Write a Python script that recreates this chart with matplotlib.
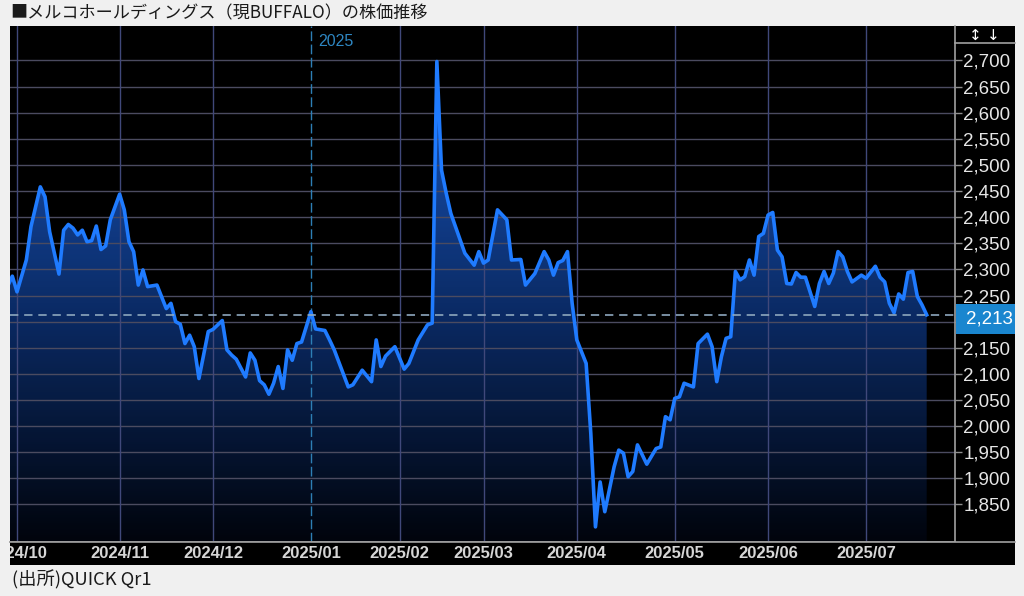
import numpy as np
import pandas as pd
import matplotlib
matplotlib.use("Agg")
import matplotlib.pyplot as plt
from matplotlib.patches import Rectangle
from matplotlib.lines import Line2D
from matplotlib.colors import LinearSegmentedColormap
from matplotlib.ticker import FuncFormatter

# --- data (closing prices, yen) ---
dates = [
    "2024-09-27", "2024-09-30", "2024-10-01", "2024-10-03", "2024-10-04", "2024-10-08",
    "2024-10-09", "2024-10-10", "2024-10-15", "2024-10-16", "2024-10-17", "2024-10-18",
    "2024-10-21", "2024-10-22", "2024-10-23", "2024-10-24", "2024-10-25", "2024-10-28",
    "2024-10-29", "2024-10-30", "2024-11-01", "2024-11-05", "2024-11-06", "2024-11-07",
    "2024-11-08", "2024-11-11", "2024-11-12", "2024-11-14", "2024-11-18", "2024-11-19",
    "2024-11-20", "2024-11-21", "2024-11-22", "2024-11-25", "2024-11-26", "2024-11-27",
    "2024-11-29", "2024-12-02", "2024-12-04", "2024-12-05", "2024-12-06", "2024-12-09",
    "2024-12-11", "2024-12-12", "2024-12-13", "2024-12-16", "2024-12-17", "2024-12-18",
    "2024-12-19", "2024-12-20", "2024-12-23", "2024-12-24", "2024-12-25", "2024-12-26",
    "2024-12-27", "2024-12-30", "2025-01-06", "2025-01-07", "2025-01-09", "2025-01-10",
    "2025-01-14", "2025-01-17", "2025-01-20", "2025-01-22", "2025-01-24", "2025-01-27",
    "2025-01-28", "2025-01-29", "2025-01-31", "2025-02-04", "2025-02-05", "2025-02-07",
    "2025-02-12", "2025-02-13", "2025-02-14", "2025-02-17", "2025-02-18", "2025-02-19",
    "2025-02-21", "2025-02-25", "2025-02-27", "2025-02-28", "2025-03-03", "2025-03-04",
    "2025-03-06", "2025-03-10", "2025-03-11", "2025-03-13", "2025-03-14", "2025-03-18",
    "2025-03-21", "2025-03-24", "2025-03-25", "2025-03-26", "2025-03-27", "2025-03-28",
    "2025-03-31", "2025-04-01", "2025-04-03", "2025-04-04", "2025-04-07", "2025-04-08",
    "2025-04-09", "2025-04-11", "2025-04-14", "2025-04-15", "2025-04-16", "2025-04-17",
    "2025-04-18", "2025-04-22", "2025-04-24", "2025-04-25", "2025-04-28", "2025-04-30",
    "2025-05-01", "2025-05-02", "2025-05-07", "2025-05-09", "2025-05-12", "2025-05-14",
    "2025-05-15", "2025-05-16", "2025-05-19", "2025-05-20", "2025-05-21", "2025-05-22",
    "2025-05-23", "2025-05-26", "2025-05-27", "2025-05-28", "2025-05-29", "2025-05-30",
    "2025-06-02", "2025-06-03", "2025-06-04", "2025-06-05", "2025-06-06", "2025-06-09",
    "2025-06-10", "2025-06-11", "2025-06-12", "2025-06-16", "2025-06-17", "2025-06-18",
    "2025-06-19", "2025-06-20", "2025-06-23", "2025-06-24", "2025-06-25", "2025-06-26",
    "2025-06-30", "2025-07-01", "2025-07-03", "2025-07-04", "2025-07-07", "2025-07-08",
    "2025-07-09", "2025-07-10", "2025-07-11", "2025-07-14", "2025-07-15", "2025-07-16",
    "2025-07-17", "2025-07-18",
]
close = [
    2268, 2287, 2257, 2318, 2382, 2458,
    2439, 2372, 2291, 2375, 2386, 2379,
    2366, 2375, 2353, 2355, 2383, 2338,
    2345, 2395, 2444, 2414, 2353, 2334,
    2270, 2299, 2267, 2270, 2225, 2235,
    2200, 2195, 2158, 2174, 2152, 2091,
    2181, 2185, 2202, 2146, 2136, 2128,
    2094, 2140, 2126, 2087, 2079, 2061,
    2082, 2114, 2072, 2146, 2126, 2158,
    2161, 2190, 2219, 2186, 2183, 2165,
    2146, 2075, 2079, 2107, 2085, 2165,
    2114, 2134, 2152, 2109, 2120, 2165,
    2194, 2197, 2698, 2490, 2446, 2407,
    2356, 2331, 2308, 2334, 2312, 2318,
    2414, 2395, 2318, 2319, 2270, 2292,
    2334, 2318, 2289, 2313, 2317, 2334,
    2235, 2165, 2120, 1986, 1807, 1893,
    1836, 1922, 1954, 1948, 1903, 1913,
    1964, 1927, 1957, 1960, 2018, 2012,
    2053, 2056, 2082, 2075, 2158, 2176,
    2152, 2085, 2133, 2168, 2171, 2296,
    2280, 2286, 2318, 2289, 2363, 2369,
    2404, 2409, 2337, 2324, 2273, 2272,
    2294, 2285, 2285, 2229, 2273, 2296,
    2273, 2293, 2334, 2324, 2296, 2276,
    2289, 2283, 2306, 2285, 2276, 2235,
    2217, 2253, 2243, 2294, 2296, 2248,
    2232, 2213,
]
last_price = 2213
month_labels = ["2024/10", "2024/11", "2024/12", "2025/01", "2025/02",
                "2025/03", "2025/04", "2025/05", "2025/06", "2025/07"]
y_ticks = list(range(1850, 2701, 50))

# Tokyo exchange closed days in the period
holidays = ["2024-10-14", "2024-11-04", "2024-12-31", "2025-01-01", "2025-01-02",
            "2025-01-03", "2025-01-13", "2025-02-11", "2025-02-24", "2025-03-20",
            "2025-04-29", "2025-05-05", "2025-05-06", "2025-07-21"]

# trading-day axis (x = trading days since 2024-10-01)
tdays = pd.bdate_range("2024-09-20", "2025-08-29", freq="C", holidays=holidays)
origin = tdays.get_loc(pd.Timestamp("2024-10-01"))
x = tdays.get_indexer(pd.to_datetime(dates)) - origin
month_first = [tdays[(tdays.year == int(m[:4])) & (tdays.month == int(m[5:]))][0] for m in month_labels]
month_pos = [tdays.get_loc(d) - origin for d in month_first]

# --- figure layout in pixels ---
W, H = 1024, 596
def fx(px):
    return px / W
def fy(py):
    return 1 - py / H

fig = plt.figure(figsize=(W / 100, H / 100), dpi=100, facecolor="#f0f0f0")
fig.patches.append(Rectangle((fx(10), fy(565)), 1005 / W, 539 / H, transform=fig.transFigure,
                             facecolor="black", edgecolor="none", zorder=-1))

ax = fig.add_axes([fx(10), fy(541.5), 945 / W, 515.5 / H])
ax.set_facecolor("black")
xmin, xmax = -1.5, 201.07
ymin, ymax = 1779, 2766
ax.set_xlim(xmin, xmax)
ax.set_ylim(ymin, ymax)

# grid
for v in y_ticks:
    ax.axhline(v, color="#4b4b60", lw=1, zorder=2)
for i, p in enumerate(month_pos):
    if month_labels[i] == "2025/01":
        ax.axvline(p, color="#2d7fb5", lw=1, ls=(0, (7, 2.5)), zorder=2)
    else:
        ax.axvline(p, color="#40487a", lw=1, zorder=2)

# gradient fill under the line
fill = ax.fill_between(x, close, ymin, facecolor="none", edgecolor="none")
cmap = LinearSegmentedColormap.from_list("fill", [(0, "#02050e"), (0.43, "#0b2c68"), (1, "#1d62d6")])
grad = np.linspace(0, 1, 256).reshape(-1, 1)
im = ax.imshow(grad, extent=[xmin, xmax, ymin, ymax], origin="lower", aspect="auto",
               cmap=cmap, zorder=1, alpha=0.95)
im.set_clip_path(fill.get_paths()[0], ax.transData)

ax.plot(x, close, color="#1f7bff", lw=2.6, solid_joinstyle="round", zorder=3)
ax.axhline(last_price, color="#8ea8be", lw=1.2, ls=(0, (5, 3.5)), zorder=3)

ax.annotate("2025", xy=(month_pos[3], 0.969), xycoords=("data", "axes fraction"),
            xytext=(5, 0), textcoords="offset points", ha="left", va="center",
            color="#2e86c1", fontsize=11.5, family="Liberation Sans")

# axes styling (the 2,200 label sits under the price box, so it is left blank)
ax.yaxis.tick_right()
ax.set_yticks(y_ticks)
ax.yaxis.set_major_formatter(FuncFormatter(lambda v, p: "" if v == 2200 else f"{v:,.0f}"))
ax.tick_params(axis="y", colors="#909090", labelcolor="#e6e6e6", length=5, width=1,
               pad=1, labelsize=13.5)
for lab in ax.get_yticklabels():
    lab.set_family("Liberation Sans")
ax.set_xticks([])
for s in ["top", "left"]:
    ax.spines[s].set_visible(False)
for s in ["right", "bottom"]:
    ax.spines[s].set_color("#a0a0a0")
    ax.spines[s].set_linewidth(1.2)

# bottom date strip
bx = fig.add_axes([fx(10), fy(565), 1005 / W, 23.5 / H])
bx.set_facecolor("black")
bx.set_xlim(xmin, xmin + 1005 / (945 / (xmax - xmin)))
bx.set_ylim(0, 1)
bx.set_xticks([])
bx.set_yticks([])
for s in bx.spines.values():
    s.set_visible(False)
for p, lab in zip(month_pos, month_labels):
    bx.text(p, 0.5, lab, ha="center", va="center", color="#d6d6d6", fontsize=12,
            fontweight="bold", family="Liberation Sans", clip_on=True)

# separators and right panel bits
fig.add_artist(Line2D([fx(10), fx(1015)], [fy(541.5), fy(541.5)], color="#a0a0a0", lw=1.2, zorder=5))
fig.add_artist(Line2D([fx(955), fx(1015)], [fy(43), fy(43)], color="#a0a0a0", lw=1.2, zorder=5))
fig.text(fx(975), fy(35), "↕", color="white", fontsize=11, ha="center", va="center", zorder=6)
fig.text(fx(993), fy(35), "↓", color="white", fontsize=11, ha="center", va="center", zorder=6)

fig.patches.append(Rectangle((fx(955.5), fy(334)), 59.5 / W, 30 / H, transform=fig.transFigure,
                             facecolor="#1a86cf", edgecolor="none", zorder=5))
fig.text(fx(966), fy(319), f"{last_price:,}", color="white", fontsize=13.5, ha="left",
         va="center", family="Liberation Sans", zorder=6)

# title and source
jp = ["Noto Sans CJK JP", "DejaVu Sans"]
fig.text(fx(10), fy(13), "■メルコホールディングス（現BUFFALO）の株価推移", fontsize=12.3,
         family=jp, ha="left", va="center", color="#1a1a1a")
fig.text(fx(12), fy(580), "(出所)QUICK Qr1", fontsize=13.2, family=jp, ha="left",
         va="center", color="#1a1a1a")

fig.savefig("out.png", dpi=100, facecolor=fig.get_facecolor())
